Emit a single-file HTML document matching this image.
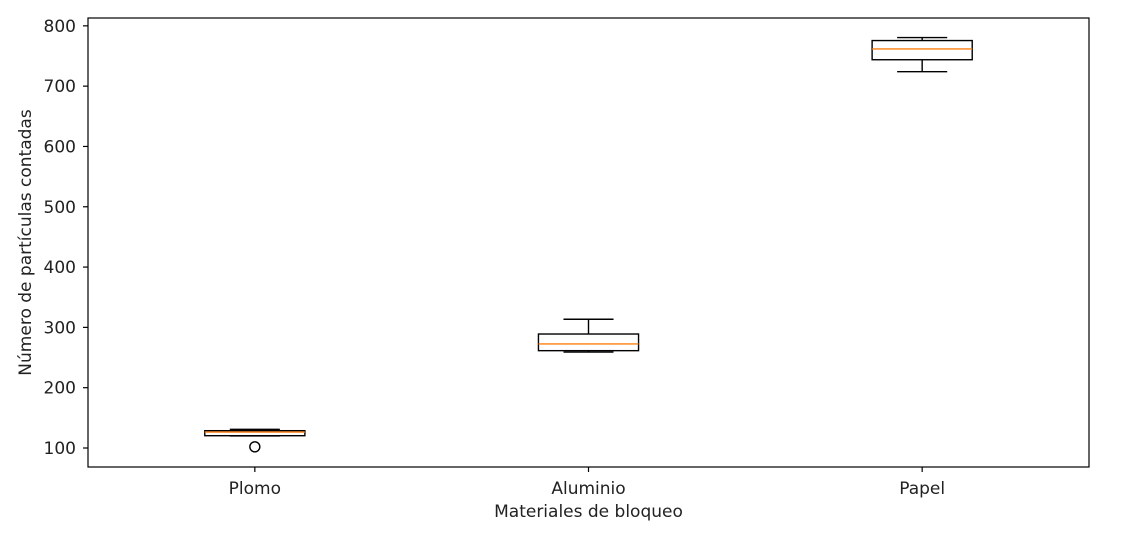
<!DOCTYPE html>
<html><head><meta charset="utf-8"><style>
body{margin:0;background:#fff;font-family:"Liberation Sans","DejaVu Sans",sans-serif;}
svg text{font-family:"DejaVu Sans","Liberation Sans",sans-serif;font-size:17px;fill:#222;}
</style></head><body>
<svg id="chart" width="1123" height="528" xmlns="http://www.w3.org/2000/svg"></svg>
<script>
const categories=["Plomo","Aluminio","Papel"];
const whiskerLow=[120,259,724];
const q1=[120.4,261.4,743.8];
const medians=[126.5,272.5,761.7];
const q3=[128.7,289,775.6];
const whiskerHigh=[131,313.5,780.6];
const outliers=[[102],[],[]];
const yTicks=[100,200,300,400,500,600,700,800];

const svg=document.getElementById('chart');
const NS='http://www.w3.org/2000/svg';
const L=88,R=1089,T=18,B=467,ymin=68.5,ymax=813;
const x=v=>L+(v-0.5)/3*(R-L);
const y=v=>B-(v-ymin)/(ymax-ymin)*(B-T);
function mk(tag,attrs){const e=document.createElementNS(NS,tag);for(const k in attrs)e.setAttribute(k,attrs[k]);svg.appendChild(e);return e;}
const ux=(R-L)/3;
categories.forEach((c,i)=>{
  const cx=x(i+1);
  const g1=mk('line',{x1:cx,x2:cx,y1:y(q3[i]),y2:y(whiskerHigh[i]),stroke:'#000','stroke-width':1.4});
  
  
  const g2=mk('line',{x1:cx,x2:cx,y1:y(q1[i]),y2:y(whiskerLow[i]),stroke:'#000','stroke-width':1.4});
  
  
  [whiskerHigh[i],whiskerLow[i]].forEach(v=>{
    const cp=mk('line',{x1:cx-0.075*ux,x2:cx+0.075*ux,y1:y(v),y2:y(v),stroke:'#000','stroke-width':1.4});
    
    
  });
  const b=mk('rect',{x:cx-0.15*ux,y:y(q3[i]),width:0.3*ux,height:y(q1[i])-y(q3[i]),fill:'none',stroke:'#000','stroke-width':1.4});
  
  
  const m=mk('line',{x1:cx-0.15*ux,x2:cx+0.15*ux,y1:y(medians[i]),y2:y(medians[i]),stroke:'#ff7f0e','stroke-width':1.4});
  
  
  outliers[i].forEach(v=>{
    const o=mk('circle',{cx:cx,cy:y(v),r:5,fill:'none',stroke:'#000','stroke-width':1.4});
    
    
  });
  const tk=mk('line',{x1:cx,x2:cx,y1:B,y2:B+5,stroke:'#000','stroke-width':1.2});
  
  
  const t=mk('text',{x:cx,y:B+27,'text-anchor':'middle'});t.textContent=c;
  
  
});
yTicks.forEach(v=>{
  const tk=mk('line',{x1:L-5,x2:L,y1:y(v),y2:y(v),stroke:'#000','stroke-width':1.2});
  
  
  const t=mk('text',{x:L-12,y:y(v)+6,'text-anchor':'end'});t.textContent=v;
  
  
});
const fr=mk('rect',{x:L,y:T,width:R-L,height:B-T,fill:'none',stroke:'#000','stroke-width':1.2});


const xl=mk('text',{x:(L+R)/2,y:517,'text-anchor':'middle'});xl.textContent='Materiales de bloqueo';


const yl=mk('text',{x:0,y:0,'text-anchor':'middle',transform:'translate(31,'+((T+B)/2)+') rotate(-90)'});yl.textContent='Número de partículas contadas';


</script>
</body></html>
